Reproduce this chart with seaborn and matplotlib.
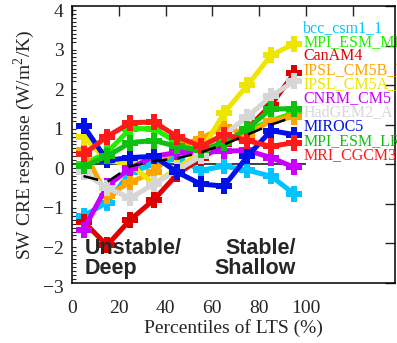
import matplotlib
matplotlib.use("Agg")
import matplotlib.pyplot as plt
from matplotlib import font_manager
from matplotlib.ticker import MultipleLocator, FixedLocator
import matplotlib.transforms as mtransforms
import numpy as np
import pandas as pd
import seaborn as sns

# LTS percentile bin centres
pct = [5, 15, 25, 35, 45, 55, 65, 75, 85, 95]

# SW CRE response (W/m2/K) per model
bcc_csm1_1 = [-1.3, -0.97, -0.2, 0.0, 0.15, -0.15, -0.05, -0.15, -0.3, -0.75]
mpi_esm_mr = [0.0, 0.3, 0.9, 0.9, 0.55, 0.3, 0.5, 0.85, 1.1, 1.3]
canam4 = [-1.45, -2.05, -1.4, -0.9, -0.25, 0.15, 0.5, 0.9, 1.5, 2.3]
ipsl_cm5b_lr = [0.35, -0.8, -0.45, -0.2, 0.45, 0.65, 0.95, 0.75, 1.1, 1.2]
ipsl_cm5a_lr = [0.7, 0.1, 0.0, -0.5, -0.1, 0.3, 1.3, 2.0, 2.75, 3.05]
cnrm_cm5 = [-1.65, -0.55, -0.1, 0.2, 0.3, 0.3, 0.33, 0.35, 0.17, -0.08]
hadgem2_a = [-0.2, -0.6, -0.85, -0.5, -0.15, 0.2, 0.75, 1.2, 1.72, 2.1]
miroc5 = [0.97, 0.1, 0.17, 0.2, -0.2, -0.5, -0.55, 0.2, 0.85, 0.75]
mpi_esm_lr = [-0.05, 0.2, 0.55, 0.6, 0.45, 0.35, 0.55, 0.9, 1.4, 1.4]
mri_cgcm3 = [0.25, 0.7, 1.05, 1.07, 0.7, 0.45, 0.75, 0.6, 0.45, 0.55]
ensemble_mean = [-0.3, -0.45, -0.05, 0.08, 0.15, 0.3, 0.5, 0.75, 1.0, 1.2]

model_names = ["bcc_csm1_1", "MPI_ESM_MR", "CanAM4", "IPSL_CM5B_LR", "IPSL_CM5A_LR",
               "CNRM_CM5", "HadGEM2_A", "MIROC5", "MPI_ESM_LR", "MRI_CGCM3"]
model_values = [bcc_csm1_1, mpi_esm_mr, canam4, ipsl_cm5b_lr, ipsl_cm5a_lr,
                cnrm_cm5, hadgem2_a, miroc5, mpi_esm_lr, mri_cgcm3]
model_colors = ["#00C4FF", "#22EE00", "#E00000", "#FFA500", "#EEE600",
                "#C800FF", "#D6D6D6", "#0010E8", "#10C010", "#FF1A1A"]

x_ticks = [0, 20, 40, 60, 80, 100, 120]
x_tick_labels = ["0", "20", "40", "60", "80", "100", ""]
y_ticks = [-3, -2, -1, 0, 1, 2, 3, 4]

sns.set_style("white")
serif = ["Liberation Serif", "DejaVu Serif"]
plt.rcParams["font.family"] = serif
plt.rcParams["mathtext.fontset"] = "custom"
plt.rcParams["mathtext.rm"] = "Liberation Serif"

df = pd.DataFrame({
    "pct": np.tile(pct, len(model_names)),
    "cre": np.concatenate(model_values),
    "model": np.repeat(model_names, len(pct)),
})

fig = plt.figure(figsize=(3.97, 3.43), dpi=100)
ax = fig.add_axes([0.181, 0.175, 0.814, 0.8075])

ax.hlines(0, 0, 100, color="#303030", lw=1.3, zorder=1)

sns.lineplot(data=df, x="pct", y="cre", hue="model", hue_order=model_names,
             palette=dict(zip(model_names, model_colors)), marker="P",
             markersize=11, markeredgewidth=0, linewidth=3.6, sort=False,
             legend=False, ax=ax, zorder=2)

sns.lineplot(x=pct, y=ensemble_mean, color="black", linewidth=1.8,
             dashes=False, ax=ax, zorder=3, linestyle=(0, (6, 4)))

ax.set_xlim(0, 138)
ax.set_ylim(-3, 4)
ax.xaxis.set_major_locator(FixedLocator(x_ticks))
ax.set_xticklabels(x_tick_labels)
ax.yaxis.set_major_locator(FixedLocator(y_ticks))
ax.yaxis.set_minor_locator(MultipleLocator(0.1))
ax.tick_params(axis="both", which="major", direction="in", length=7, width=1,
               labelsize=14, top=True, right=True, pad=6)
ax.tick_params(axis="y", which="minor", direction="in", length=3, width=0.8,
               left=True, right=False)
ax.tick_params(axis="x", pad=12)
for s in ax.spines.values():
    s.set_color("black")
    s.set_linewidth(1.1)

# y tick labels sit a little below their ticks
shift = mtransforms.ScaledTranslation(0, -0.04, fig.dpi_scale_trans)
for lbl in ax.get_yticklabels():
    lbl.set_transform(lbl.get_transform() + shift)

ax.set_xlabel("Percentiles of LTS (%)", fontsize=14, labelpad=2)
ax.set_ylabel("SW CRE response (W/m$^2$/K)", fontsize=14, labelpad=4)

for i, (name, col) in enumerate(zip(model_names, model_colors)):
    ax.text(98.8, 3.45 - i * 0.357, name, color=col, fontsize=11.5,
            va="center", ha="left", clip_on=False)

ax.text(5.5, -2.38, "Unstable/\nDeep", family="Liberation Sans", fontweight="bold",
        fontsize=15.5, va="center", ha="left", linespacing=0.95)
ax.text(95.7, -2.38, "Stable/\nShallow", family="Liberation Sans", fontweight="bold",
        fontsize=15.5, va="center", ha="right", linespacing=0.95, multialignment="right")

fig.savefig("out.png", dpi=100)
